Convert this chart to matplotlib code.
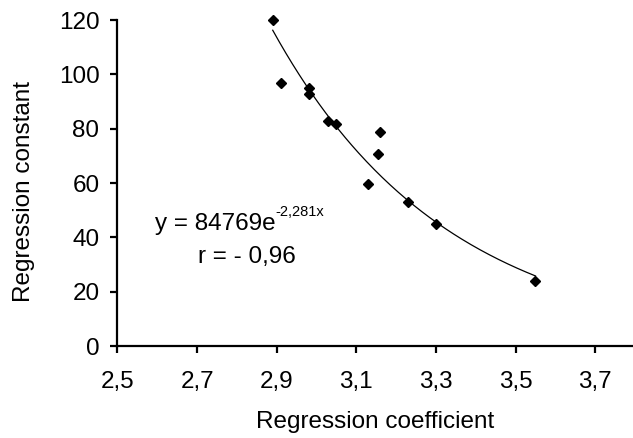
import numpy as np
import matplotlib.pyplot as plt

plt.rcParams['font.family'] = ['Liberation Sans', 'DejaVu Sans']

# data
coef = [2.89, 2.91, 2.98, 2.98, 3.03, 3.05, 3.13, 3.155, 3.16, 3.23, 3.30, 3.55]
const = [120, 97, 94.8, 92.6, 82.9, 81.6, 59.7, 70.7, 78.6, 52.9, 44.9, 24]

# trend line parameters printed on the chart
a_fit = 84769
b_fit = -2.281

x_ticks = [2.5, 2.7, 2.9, 3.1, 3.3, 3.5, 3.7]
x_tick_labels = ["2,5", "2,7", "2,9", "3,1", "3,3", "3,5", "3,7"]
y_ticks = [0, 20, 40, 60, 80, 100, 120]

fs = 17.5

fig = plt.figure(figsize=(6.33, 4.38), dpi=100)
ax = fig.add_axes([0.1856, 0.21, 1 - 0.1856, 0.9543 - 0.21])

# trend curve
xs = np.linspace(min(coef), max(coef), 200)
ax.plot(xs, a_fit * np.exp(b_fit * xs), color="black", lw=0.9, clip_on=False)

# points
ax.plot(coef, const, linestyle="none", marker="D", ms=5, color="black", clip_on=False)

ax.set_xlim(2.5, 3.795)
ax.set_ylim(0, 120)
ax.set_xticks(x_ticks)
ax.set_xticklabels(x_tick_labels)
ax.set_yticks(y_ticks)

for side in ["top", "right"]:
    ax.spines[side].set_visible(False)
for side in ["left", "bottom"]:
    ax.spines[side].set_linewidth(1.6)
ax.tick_params(axis="both", direction="out", length=5, width=1.6, labelsize=fs)
ax.tick_params(axis="x", pad=13)
ax.tick_params(axis="y", pad=8)

ax.set_xlabel("Regression coefficient", fontsize=fs)
ax.set_ylabel("Regression constant", fontsize=fs)
ax.xaxis.set_label_coords(0.5, -0.198)
ax.yaxis.set_label_coords(-0.160, 0.474)

# equation and correlation text
eq = ax.text(2.594, 42.7, "y = 84769e", fontsize=fs, va="baseline", ha="left")
ax.annotate("-2,281x", xy=(1, 0.73), xycoords=eq, va="bottom", ha="left", fontsize=10.5)
ax.text(2.702, 30.5, "r = - 0,96", fontsize=fs, va="baseline", ha="left")

plt.savefig("out.png", dpi=100)
